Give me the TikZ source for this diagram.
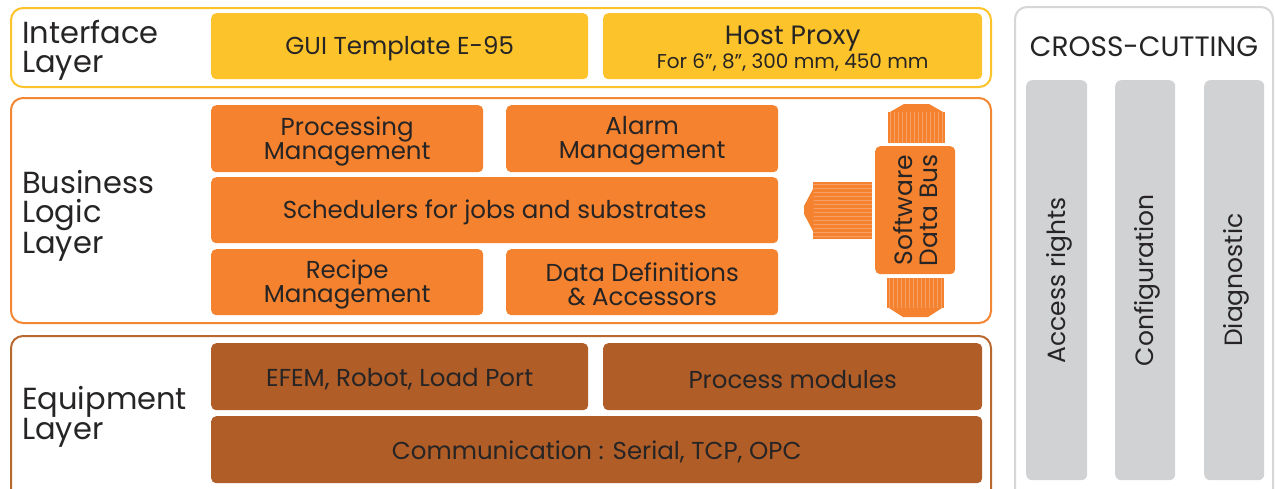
\documentclass[tikz,border=0pt]{standalone}
\usepackage{fontspec}
\setmainfont{Poppins}
\usetikzlibrary{calc}
\definecolor{ycol}{HTML}{FDC32A}
\definecolor{ocol}{HTML}{F4822E}
\definecolor{oline}{HTML}{F28633}
\definecolor{bcol}{HTML}{B15D27}
\definecolor{bline}{HTML}{B8692F}
\definecolor{gcol}{HTML}{D1D2D4}
\definecolor{gline}{HTML}{D6D6D6}
\definecolor{txt}{HTML}{262424}
\definecolor{stripe}{HTML}{F8A066}
\begin{document}
\begin{tikzpicture}[x=1pt,y=-1pt,
  layer/.style={rounded corners=12pt, line width=2pt, fill=white, anchor=north west, inner sep=0pt},
  box/.style={rounded corners=5pt, inner sep=0pt, anchor=north west},
  tx/.style={inner sep=0pt, align=center, text=txt, yshift=-2.5pt, font=\fontsize{24.5}{24}\selectfont},
  ybox/.style={box, fill=ycol},
  obox/.style={box, fill=ocol},
  bbox/.style={box, fill=bcol},
  gbar/.style={rounded corners=6pt, fill=gcol, inner sep=0pt, anchor=north west},
  lbl/.style={anchor=west, align=left, text=txt, inner sep=0pt, font=\fontsize{30.5}{29}\selectfont},
  vtext/.style={rotate=90, text=txt, font=\fontsize{25}{25}\selectfont, align=center, inner sep=0pt}
]
\clip (0,0) rectangle (1275,488);
\useasboundingbox (0,0) rectangle (1275,488);

% layer frames
\node[layer, draw=ycol, minimum width=980pt, minimum height=79pt] (ifl) at (10,7) {};
\node[layer, draw=oline, minimum width=980pt, minimum height=225pt] (bll) at (10,97) {};
\node[layer, draw=bline, minimum width=980pt, minimum height=170pt] (eql) at (10,335) {};
\node[layer, draw=gline, minimum width=258pt, minimum height=500pt] (ccl) at (1014,6) {};

% layer labels
\node[lbl] (iflt) at (22,50) {Interface\\Layer};
\node[lbl] (bllt) at (22,216) {Business\\Logic\\Layer};
\node[lbl] (eqlt) at (22,417) {Equipment\\Layer};

% interface layer
\node[ybox, minimum width=377pt, minimum height=66pt] (gui) at (211,13) {};
\node[tx] (guit) at (gui.center) {GUI Template E-95};
\node[ybox, minimum width=379pt, minimum height=66pt] (host) at (603,13) {};
\node[tx] (hostt) at (host.center) {{\fontsize{26.5}{24}\selectfont Host Proxy}\\{\fontsize{20}{20}\selectfont For 6”, 8”, 300 mm, 450 mm}};

% business logic layer
\node[obox, minimum width=272pt, minimum height=67pt] (pm) at (211,105) {};
\node[tx] (pmt) at (pm.center) {Processing\\Management};
\node[obox, minimum width=272pt, minimum height=67pt] (am) at (506,105) {};
\node[tx] (amt) at (am.center) {Alarm\\Management};
\node[obox, minimum width=567pt, minimum height=66pt] (sch) at (211,177) {};
\node[tx] (scht) at (sch.center) {Schedulers for jobs and substrates};
\node[obox, minimum width=272pt, minimum height=66pt] (rm) at (211,249) {};
\node[tx] (rmt) at (rm.center) {Recipe\\Management};
\node[obox, minimum width=272pt, minimum height=66pt] (dd) at (506,249) {};
\node[tx] (ddt) at (dd.center) {Data Definitions\\\& Accessors};

% software data bus
\node[obox, minimum width=80pt, minimum height=128pt] (bus) at (875,146) {};
\node[vtext] (bust) at (bus.center) {Software\\Data Bus};
% up arrow
\fill[ocol] (888,112) rectangle (945,143);
\foreach \i in {890,894,...,943} \fill[stripe] (\i,112) rectangle ++(1.4,31);
\fill[ocol] (890,112) -- (904,104) -- (929,104) -- (943,112) -- cycle;
% down arrow
\fill[ocol] (887,278) rectangle (944,308);
\foreach \i in {889,893,...,942} \fill[stripe] (\i,278) rectangle ++(1.4,30);
\fill[ocol] (889,308) -- (903,317) -- (928,317) -- (942,308) -- cycle;
% left arrow
\fill[ocol] (813,182) rectangle (872,239);
\foreach \j in {184,188,...,237} \fill[stripe] (813,\j) rectangle ++(59,1.4);
\fill[ocol] (813.5,188) -- (804,206) -- (804,214) -- (813.5,232) -- cycle;

% equipment layer
\node[bbox, minimum width=377pt, minimum height=67pt] (efem) at (211,343) {};
\node[tx] (efemt) at (efem.center) {EFEM, Robot, Load Port};
\node[bbox, minimum width=379pt, minimum height=67pt] (pmod) at (603,343) {};
\node[tx] (pmodt) at (pmod.center) {Process modules};
\node[bbox, minimum width=771pt, minimum height=67pt] (comm) at (211,416) {};
\node[tx] (commt) at (comm.center) {Communication : Serial, TCP, OPC};

% cross-cutting
\node[text=txt, inner sep=0pt, font=\fontsize{28}{28}\selectfont] (cct) at (1144,47) {CROSS-CUTTING};
\node[gbar, minimum width=61pt, minimum height=400pt] (acc) at (1026,80) {};
\node[gbar, minimum width=60pt, minimum height=400pt] (cfg) at (1115,80) {};
\node[gbar, minimum width=60pt, minimum height=400pt] (dia) at (1204,80) {};
\node[vtext] (acct) at ($(acc.center)+(2.5,0)$) {Access rights};
\node[vtext] (cfgt) at ($(cfg.center)+(2.5,0)$) {Configuration};
\node[vtext] (diat) at ($(dia.center)+(2.5,0)$) {Diagnostic};
\end{tikzpicture}
\end{document}
